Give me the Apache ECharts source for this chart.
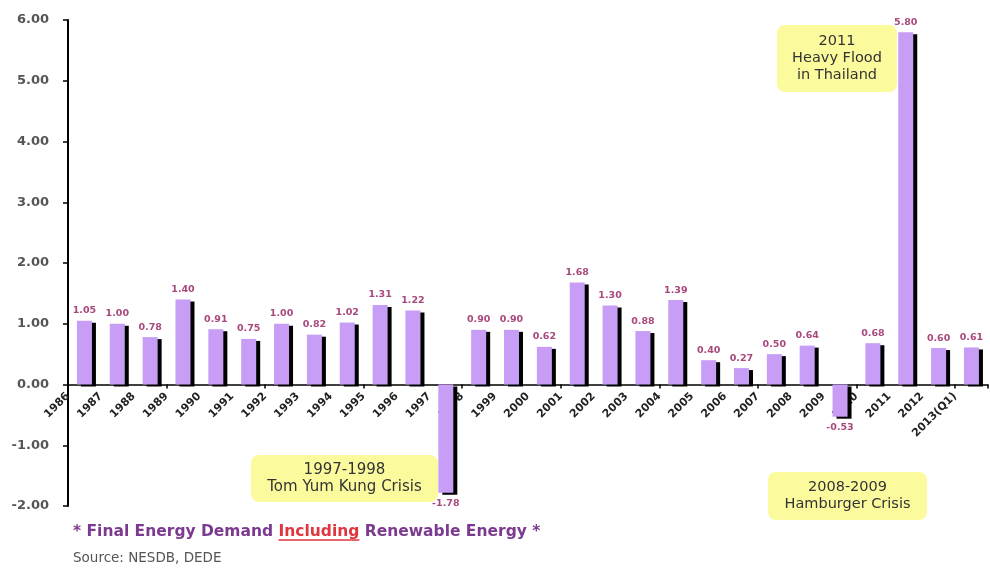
<!DOCTYPE html>
<html><head><meta charset="utf-8">
<script src="https://cdn.jsdelivr.net/npm/echarts@6/dist/echarts.min.js"></script>
<style>html,body{margin:0;padding:0;background:#fff}#c{width:990px;height:568px}</style>
</head><body><div id="c"></div>
<script>
const categories = ['1986','1987','1988','1989','1990','1991','1992','1993','1994','1995','1996','1997','1998','1999','2000','2001','2002','2003','2004','2005','2006','2007','2008','2009','2010','2011','2012','2013(Q1)'];
const values = [1.05,1.00,0.78,1.40,0.91,0.75,1.00,0.82,1.02,1.31,1.22,-1.78,0.90,0.90,0.62,1.68,1.30,0.88,1.39,0.40,0.27,0.50,0.64,-0.53,0.68,5.80,0.60,0.61];
const yMin = -2, yMax = 6, yStep = 1;
const noteFlood = ['2011', 'Heavy Flood', 'in Thailand'];
const noteTomYum = ['1997-1998', 'Tom Yum Kung Crisis'];
const noteHamburger = ['2008-2009', 'Hamburger Crisis'];
const footParts = ['* Final Energy Demand ', 'Including', ' Renewable Energy *'];
const sourceText = 'Source: NESDB, DEDE';

const chart = echarts.init(document.getElementById('c'), null, {renderer: 'canvas'});

const FONT = 'DejaVu Sans';
const footFont = 'bold 15.5px "' + FONT + '"';
const ctx = document.createElement('canvas').getContext('2d');
ctx.font = footFont;
const footX = 73, footY = 532;
const incStart = footX + ctx.measureText(footParts[0]).width;
const incWidth = ctx.measureText(footParts[1]).width;

function note(lines, x, y, w, h, fs) {
  return [
    {type: 'rect', shape: {x: x, y: y, width: w, height: h, r: 8}, style: {fill: '#fbfb9d'}, z: 10},
    {type: 'text', x: x + w / 2, y: y + h / 2, z: 11,
     style: {text: lines.join('\n'), font: fs + 'px "' + FONT + '"', fill: '#333',
             align: 'center', verticalAlign: 'middle', lineHeight: 17}}
  ];
}

const barData = values.map(v => v < 0 ? {value: v, label: {position: 'bottom', distance: 6}} : v);

chart.setOption({
  animation: false,
  backgroundColor: '#fff',
  grid: {left: 68, right: 0, top: 20, bottom: 62, containLabel: false},
  xAxis: [
    {type: 'category', data: categories, position: 'bottom',
     axisLine: {onZero: true, lineStyle: {color: '#000', width: 1.5}},
     axisTick: {show: true, length: 4, inside: false, lineStyle: {color: '#000', width: 1.5}},
     axisLabel: {show: false}, splitLine: {show: false}},
    {type: 'category', data: categories.concat(['']), position: 'bottom', boundaryGap: false, offset: 0,
     axisLine: {show: false, onZero: false}, axisTick: {show: false}, splitLine: {show: false},
     axisLabel: {interval: 0, rotate: 45, margin: 10, fontFamily: FONT, fontWeight: 'bold',
                 fontSize: 11, color: '#222'}}
  ],
  yAxis: {
    type: 'value', min: yMin, max: yMax, interval: yStep,
    axisLine: {show: true, lineStyle: {color: '#000', width: 2}},
    axisTick: {show: true, length: 5, lineStyle: {color: '#000', width: 1.5}},
    splitLine: {show: false},
    axisLabel: {formatter: v => v.toFixed(2), fontFamily: FONT, fontWeight: 'bold', fontSize: 13,
                color: '#555', margin: 19}
  },
  series: [{
    type: 'bar', xAxisIndex: 0, data: barData, barWidth: 15, z: 3,
    itemStyle: {color: '#c79df6', shadowColor: '#000', shadowOffsetX: 4, shadowOffsetY: 2, shadowBlur: 0},
    label: {show: true, position: 'top', distance: 5, formatter: p => p.value.toFixed(2),
            fontFamily: FONT, fontWeight: 'bold', fontSize: 9.5, color: '#a8487d'}
  }],
  graphic: [].concat(
    note(noteFlood, 777, 25, 120, 67, 14.5),
    note(noteTomYum, 251, 455, 187, 47, 15),
    note(noteHamburger, 768, 472, 159, 48, 14.5),
    [
      {type: 'text', x: footX, y: footY, z: 11,
       style: {text: '{a|' + footParts[0] + '}{b|' + footParts[1] + '}{a|' + footParts[2] + '}',
               verticalAlign: 'middle', align: 'left',
               rich: {a: {font: footFont, fill: '#7b3a8f'}, b: {font: footFont, fill: '#e0363f'}}}},
      {type: 'line', z: 11, shape: {x1: incStart, y1: footY + 8, x2: incStart + incWidth, y2: footY + 8},
       style: {stroke: '#e0363f', lineWidth: 1.3}},
      {type: 'text', x: footX, y: 558, z: 11,
       style: {text: sourceText, font: '13.5px "' + FONT + '"', fill: '#555', verticalAlign: 'middle', align: 'left'}}
    ]
  )
});

// place the label axis on the zero line of the value axis
const zeroPx = chart.convertToPixel({yAxisIndex: 0}, 0);
const bottomPx = chart.convertToPixel({yAxisIndex: 0}, yMin);
chart.setOption({xAxis: [{}, {offset: zeroPx - bottomPx}]});
</script></body></html>
